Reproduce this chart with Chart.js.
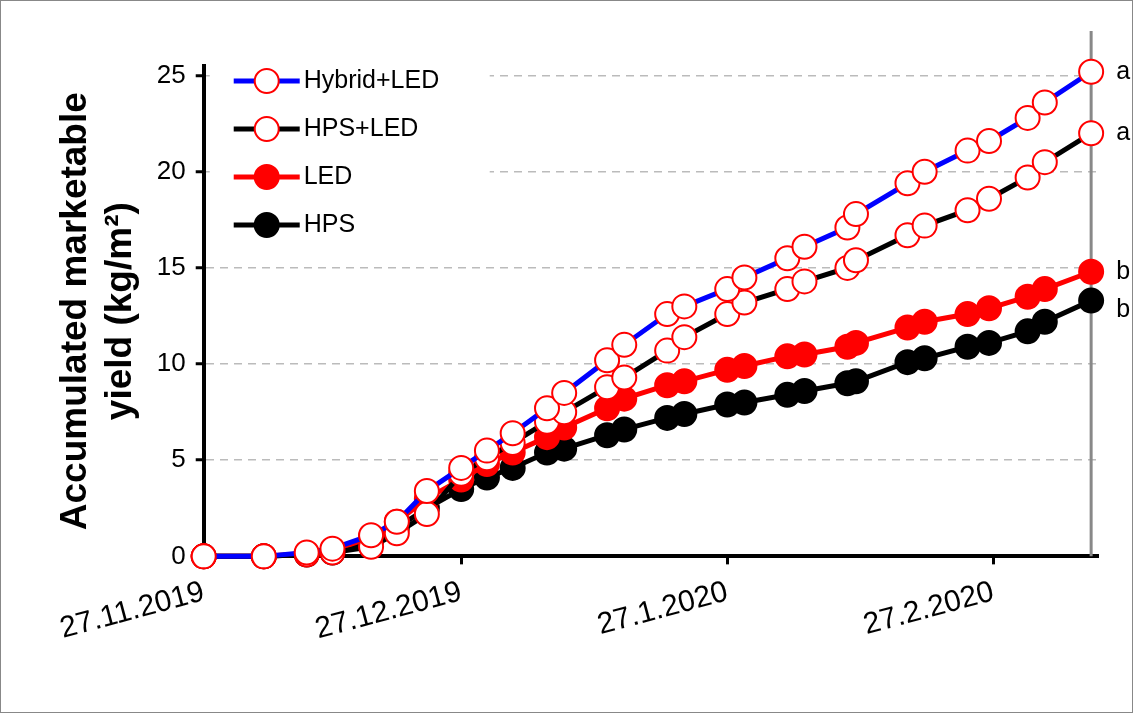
<!DOCTYPE html>
<html>
<head>
<meta charset="utf-8">
<script src="https://cdn.jsdelivr.net/npm/chart.js@4"></script>
<style>
  body { margin: 0; background: #fff; }
  #wrap { position: relative; width: 1131px; height: 711px; border: 1px solid #888; }
</style>
</head>
<body>
<div id="wrap"><canvas id="c"></canvas></div>
<script>
// days since 27.11.2019
const days = [0, 7, 12, 15, 19.5, 22.5, 26, 30, 33, 36, 40, 42, 47, 49, 54, 56, 61, 63, 68, 70, 75, 76, 82, 84, 89, 91.5, 96, 98, 103.4];
const hybridLed = [0, 0, 0.2, 0.4, 1.1, 1.8, 3.4, 4.6, 5.5, 6.4, 7.7, 8.5, 10.2, 11.0, 12.6, 13.0, 13.9, 14.5, 15.5, 16.1, 17.1, 17.8, 19.4, 20.0, 21.1, 21.6, 22.8, 23.6, 25.2];
const hpsLed = [0, 0, 0.1, 0.2, 0.5, 1.2, 2.2, 4.3, 5.1, 5.9, 7.0, 7.5, 8.8, 9.3, 10.7, 11.4, 12.6, 13.2, 13.9, 14.3, 15.0, 15.4, 16.7, 17.2, 18.0, 18.6, 19.7, 20.5, 22.0];
const led = [0, 0, 0.15, 0.3, 1.0, 1.8, 3.0, 4.0, 4.8, 5.4, 6.2, 6.7, 7.7, 8.2, 8.9, 9.1, 9.7, 9.9, 10.4, 10.5, 10.9, 11.1, 11.9, 12.2, 12.6, 12.9, 13.5, 13.9, 14.8];
const hps = [0, 0, 0.1, 0.2, 0.8, 1.5, 2.5, 3.5, 4.1, 4.6, 5.4, 5.6, 6.3, 6.6, 7.2, 7.4, 7.9, 8.0, 8.4, 8.6, 9.0, 9.1, 10.1, 10.3, 10.9, 11.1, 11.7, 12.2, 13.3];
const xTicks = [0, 30, 61, 92];
const xTickLabels = ['27.11.2019', '27.12.2019', '27.1.2020', '27.2.2020'];
const seriesNames = ['Hybrid+LED', 'HPS+LED', 'LED', 'HPS'];
const letters = ['a', 'a', 'b', 'b'];

const pts = ys => days.map((d, i) => ({ x: d, y: ys[i] }));

function ds(label, ys, line, fill) {
  return {
    label, data: pts(ys), borderColor: line, borderWidth: 5,
    pointRadius: 12, pointHoverRadius: 12, pointBorderWidth: 2,
    pointBorderColor: fill ? fill : 'red', pointBackgroundColor: fill ? fill : '#fff',
    clip: false
  };
}

const extras = {
  id: 'extras',
  beforeDatasetsDraw(chart) {
    const { ctx, chartArea: a, scales: { x } } = chart;
    ctx.save();
    ctx.strokeStyle = '#888'; ctx.lineWidth = 3;
    const xr = x.getPixelForValue(103.4);
    ctx.beginPath(); ctx.moveTo(xr, 30); ctx.lineTo(xr, a.bottom); ctx.stroke();
    ctx.restore();
  },
  afterDatasetsDraw(chart) {
    const { ctx, scales: { x, y } } = chart;
    ctx.save();
    // legend with white background
    ctx.fillStyle = '#fff';
    ctx.fillRect(x.left + 6, 55, 280, 190);
    ctx.font = '25px Arial, "Liberation Sans"';
    ctx.textBaseline = 'middle';
    const styles = [['blue', null], ['black', null], ['red', 'red'], ['black', 'black']];
    seriesNames.forEach((n, i) => {
      const yy = 80 + i * 48;
      const x0 = x.left + 30;
      ctx.strokeStyle = styles[i][0]; ctx.lineWidth = 5;
      ctx.beginPath(); ctx.moveTo(x0, yy); ctx.lineTo(x0 + 66, yy); ctx.stroke();
      ctx.beginPath(); ctx.arc(x0 + 33, yy, 12, 0, Math.PI * 2);
      ctx.fillStyle = styles[i][1] || '#fff'; ctx.fill();
      ctx.lineWidth = 2; ctx.strokeStyle = styles[i][1] || 'red'; ctx.stroke();
      ctx.fillStyle = '#000';
      ctx.fillText(n, x0 + 70, yy);
    });
    // significance letters
    const last = [hybridLed, hpsLed, led, hps].map(s => s[s.length - 1]);
    const off = [0, 0, 0, 0.5];
    ctx.textAlign = 'left';
    last.forEach((v, i) => {
      ctx.fillText(letters[i], x.getPixelForValue(103.4) + 25, y.getPixelForValue(v - off[i]));
    });
    ctx.restore();
  }
};

new Chart(document.getElementById('c'), {
  type: 'line',
  data: {
    datasets: [
      ds(seriesNames[0], hybridLed, 'blue'),
      ds(seriesNames[1], hpsLed, 'black'),
      ds(seriesNames[2], led, 'red', 'red'),
      ds(seriesNames[3], hps, 'black', 'black')
    ]
  },
  options: {
    responsive: true, maintainAspectRatio: false, animation: false,
    layout: { padding: { top: 65, right: 34, left: 49, bottom: 54 } },
    plugins: { legend: { display: false }, tooltip: { enabled: false } },
    scales: {
      x: {
        type: 'linear', min: 0, max: 104.2,
        afterBuildTicks: s => { s.ticks = xTicks.map(v => ({ value: v })); },
        ticks: {
          color: '#000', font: { size: 30, family: 'Arial, "Liberation Sans"' }, padding: 10,
          maxRotation: 15, minRotation: 15, autoSkip: false,
          callback: v => xTickLabels[xTicks.indexOf(v)]
        },
        grid: { drawOnChartArea: false, tickColor: '#000', tickLength: 8, tickWidth: 3 },
        border: { color: '#000', width: 4 }
      },
      y: {
        min: 0, max: 25.5,
        afterBuildTicks: s => { s.ticks = [0, 5, 10, 15, 20, 25].map(v => ({ value: v })); },
        ticks: { color: '#000', font: { size: 26, family: 'Arial, "Liberation Sans"' }, padding: 10 },
        grid: { color: '#bbb', lineWidth: 1.5, tickColor: '#000', tickLength: 8, tickWidth: 3 },
        border: { color: '#000', width: 4, dash: [8, 6] },
        title: {
          display: true, text: ['Accumulated marketable', 'yield (kg/m²)'],
          color: '#000', font: { size: 37, weight: 'bold', family: 'Arial, "Liberation Sans"' }, padding: 4
        }
      }
    }
  },
  plugins: [extras]
});
</script>
</body>
</html>
